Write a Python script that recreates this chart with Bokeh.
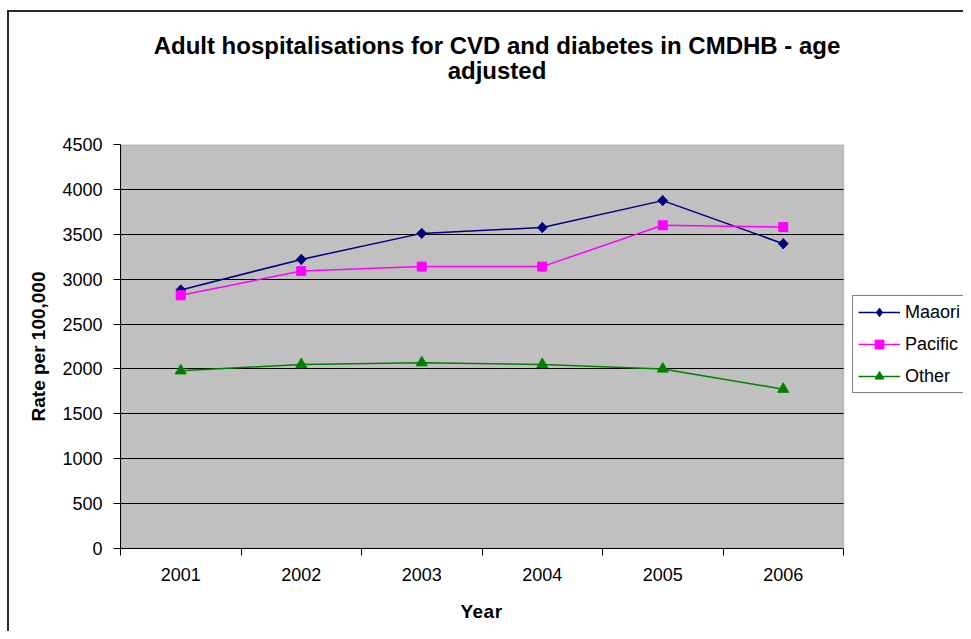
import math
from bokeh.plotting import figure
from bokeh.layouts import column
from bokeh.models import FixedTicker, Legend, LegendItem, Range1d, BoxAnnotation, Div, Grid
from bokeh.embed import file_html
from bokeh.resources import INLINE

# ---- data ----
years = [2001, 2002, 2003, 2004, 2005, 2006]
maaori = [2880, 3220, 3510, 3575, 3875, 3395]
pacific = [2820, 3090, 3140, 3140, 3600, 3580]
other = [1980, 2050, 2070, 2050, 2000, 1775]
y_ticks = [0, 500, 1000, 1500, 2000, 2500, 3000, 3500, 4000, 4500]
title_lines = ["Adult hospitalisations for CVD and diabetes in CMDHB - age", "adjusted"]
x_label = "Year"
y_label = "Rate per 100,000"

FONT = "Liberation Sans"
CSS_FONT = "'Liberation Sans', Arial, sans-serif"

# ---- layout constants (pixels) ----
PLOT_W = 723          # width of the grey plot area
LEGEND_W = 120        # room to the right of the plot area (legend lives there)
TITLE_H = 132
FIG_H = 461
XLABEL_H = 631 - TITLE_H - FIG_H

x_lo = years[0] - 0.5
x_hi = years[-1] + 0.5
x_end = x_hi + (x_hi - x_lo) * LEGEND_W / PLOT_W

title = Div(text="<br>".join(title_lines), width=963, height=TITLE_H, margin=0,
            styles={"font-family": CSS_FONT, "font-weight": "bold", "font-size": "24px",
                    "line-height": "25px", "color": "black", "text-align": "center",
                    "padding-left": "31px", "padding-top": "32.5px",
                    "box-sizing": "border-box", "white-space": "nowrap"})

xlabel = Div(text=x_label, width=963, height=XLABEL_H, margin=0,
             styles={"font-family": CSS_FONT, "font-weight": "bold", "font-size": "19px",
                     "line-height": "22px", "color": "black", "text-align": "center",
                     "padding-top": "7.5px", "box-sizing": "border-box",
                     "letter-spacing": "0.5px"})

p = figure(width=963, height=FIG_H, output_backend="svg", toolbar_location=None,
           x_range=Range1d(x_lo, x_end),
           y_range=Range1d(y_ticks[0], y_ticks[-1]),
           min_border_left=120, min_border_right=0,
           min_border_top=12, min_border_bottom=45, margin=0)
p.title.text = ""
p.background_fill_color = None
p.border_fill_color = None
p.outline_line_color = None

# grey plot area with its grey border
p.add_layout(BoxAnnotation(left=x_lo, right=x_hi, bottom=y_ticks[0], top=y_ticks[-1],
                           fill_color="#C0C0C0", fill_alpha=1,
                           line_color="#808080", line_width=2, level="image"))

# grid
p.xgrid.grid_line_color = None
p.ygrid.grid_line_color = "black"
p.ygrid.grid_line_width = 1
p.ygrid.ticker = FixedTicker(ticks=y_ticks[1:-1])
if "cross_bounds" in Grid.properties():
    p.ygrid.cross_bounds = (x_lo, x_hi)
else:
    p.ygrid.visible = False
    p.segment(x0=[x_lo] * len(y_ticks[1:-1]), x1=[x_hi] * len(y_ticks[1:-1]),
              y0=y_ticks[1:-1], y1=y_ticks[1:-1], line_color="black", line_width=1)

# y axis
p.yaxis.ticker = FixedTicker(ticks=y_ticks)
p.yaxis.axis_line_color = "black"
p.yaxis.axis_line_width = 1
p.yaxis.major_tick_line_color = "black"
p.yaxis.major_tick_out = 7
p.yaxis.major_tick_in = 0
p.yaxis.minor_tick_line_color = None
p.yaxis.major_label_text_font = FONT
p.yaxis.major_label_text_font_size = "18px"
p.yaxis.major_label_text_color = "black"
p.yaxis.major_label_standoff = 11
p.yaxis.axis_label = y_label
p.yaxis.axis_label_text_font = FONT
p.yaxis.axis_label_text_font_size = "19px"
p.yaxis.axis_label_text_font_style = "bold"
p.yaxis.axis_label_text_color = "black"
p.yaxis.axis_label_standoff = 10

# x axis: labels at category centres, ticks at category boundaries
bounds = [y - 0.5 for y in years] + [years[-1] + 0.5]
p.xaxis.bounds = (x_lo, x_hi)
p.xaxis.ticker = FixedTicker(ticks=years, minor_ticks=bounds)
p.xaxis.major_label_overrides = {y: str(y) for y in years}
p.xaxis.axis_line_color = "black"
p.xaxis.axis_line_width = 1
p.xaxis.major_tick_line_color = None
p.xaxis.major_tick_out = 7
p.xaxis.minor_tick_line_color = "black"
p.xaxis.minor_tick_out = 7
p.xaxis.minor_tick_in = 0
p.xaxis.major_label_text_font = FONT
p.xaxis.major_label_text_font_size = "18px"
p.xaxis.major_label_text_color = "black"
p.xaxis.major_label_standoff = 12

# series
r1l = p.line(years, maaori, line_color="#000080", line_width=1.5)
r1m = p.scatter(years, maaori, marker="square", angle=math.pi / 4, size=7,
                fill_color="#000080", line_color="#000080")
# diamond drawn on the same points; used as the legend swatch (legend ignores angles)
r1k = p.scatter(years, maaori, marker="diamond", size=10,
                fill_color="#000080", line_color="#000080")
r2l = p.line(years, pacific, line_color="#FF00FF", line_width=1.5)
r2m = p.scatter(years, pacific, marker="square", size=9, fill_color="#FF00FF", line_color="#FF00FF")
r3l = p.line(years, other, line_color="#008000", line_width=1.5)
r3m = p.scatter(years, other, marker="triangle", size=11, fill_color="#008000", line_color="#008000")

legend = Legend(items=[LegendItem(label="Maaori", renderers=[r1l, r1k]),
                       LegendItem(label="Pacific", renderers=[r2l, r2m]),
                       LegendItem(label="Other", renderers=[r3l, r3m])],
                location=(PLOT_W + 9, 155), orientation="vertical")
legend.label_text_font = FONT
legend.label_text_font_size = "18px"
legend.label_text_color = "black"
legend.glyph_width = 42
legend.glyph_height = 22
legend.label_height = 22
legend.label_standoff = 5
legend.spacing = 10
legend.padding = 5
legend.margin = 0
legend.border_line_color = "black"
legend.border_line_width = 1
legend.background_fill_color = "white"
legend.background_fill_alpha = 1
p.add_layout(legend, "center")

layout = column(title, p, xlabel, margin=0, spacing=0)
# outer chart-area border (its left and top edges are visible; the rest runs off the page)
layout.styles = {
    "background-color": "white",
    "background-image": "linear-gradient(#2a2a2a,#2a2a2a), linear-gradient(#2a2a2a,#2a2a2a)",
    "background-position": "7px 10px, 7px 10px",
    "background-size": "2px 100%, 100% 2px",
    "background-repeat": "no-repeat",
}

open("out.html", "w").write(file_html(layout, INLINE))
